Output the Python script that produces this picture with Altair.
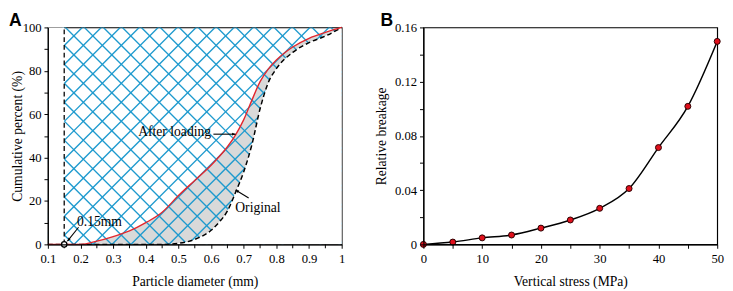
import altair as alt
import pandas as pd
import numpy as np

# ---------------- data ----------------
diam = [0.1, 0.15, 0.2, 0.25, 0.3, 0.35, 0.4, 0.45, 0.5, 0.55, 0.6, 0.625, 0.65,
        0.675, 0.7, 0.725, 0.75, 0.775, 0.8, 0.85, 0.9, 0.95, 1.0]
original = [0, 0, 0, 0, 0, 0, 0, 0, 0.5, 2.3, 6.5, 10.3, 15.4,
            24, 33.5, 46, 62.5, 74.5, 81, 88.5, 93, 96, 100]
after_loading = [0, 0, 0, 1.5, 3.6, 6.2, 10, 14.8, 22.5, 29.5, 36.5, 40.5, 45,
                 50.5, 57.5, 66.5, 75, 80.8, 85, 91, 95, 97.7, 100]
cutoff = 0.15

stress = [0, 5, 10, 15, 20, 25, 30, 35, 40, 45, 50]
breakage = [0, 0.0017, 0.0048, 0.0069, 0.012, 0.018, 0.0266, 0.0412, 0.0714, 0.1018, 0.1497]

x_major_a = [0.1, 0.2, 0.3, 0.4, 0.5, 0.6, 0.7, 0.8, 0.9, 1.0]
x_minor_a = [0.15, 0.25, 0.35, 0.45, 0.55, 0.65, 0.75, 0.85, 0.95]
y_ticks_a = list(range(0, 101, 10))
x_ticks_b = list(range(0, 51, 5))
y_ticks_b = [round(0.02 * i, 2) for i in range(9)]

# ---------------- layout / style ----------------
W, H = 302, 223
XD = [0.1, 1.0]
YD = [0, 100]
SERIF = "Liberation Serif"
HATCH = "#1e9ace"
GRAY = "#d9d9d9"
RED = "#e3262d"

sx = W / (XD[1] - XD[0])
sy = H / (YD[1] - YD[0])

xs = alt.Scale(domain=XD, nice=False, zero=False)
ys = alt.Scale(domain=YD, nice=False, zero=False)

axis_style = dict(domainColor="black", domainWidth=1.2, tickColor="black", tickSize=4,
                  tickWidth=1, labelFont=SERIF, labelFontSize=13, labelColor="black",
                  titleFont=SERIF, titleFontSize=14, titleFontWeight="normal",
                  titleColor="black", grid=False, labelFlush=False, labelOverlap=False,
                  labelSeparation=0, labelBound=False, zindex=1)

xa = alt.Axis(values=x_major_a, title="Particle diameter (mm)", titlePadding=9, labelPadding=5,
              labelExpr="format(datum.value, '~g')", **axis_style)
ya = alt.Axis(values=y_ticks_a, title="Cumulative  percent (%)", titlePadding=4,
              minExtent=20, maxExtent=20, labelPadding=3,
              labelExpr="(datum.value % 20 == 0) ? format(datum.value, '~g') : ''",
              **axis_style)

def XA(field):
    return alt.X(field, type="quantitative", scale=xs, axis=xa, title="Particle diameter (mm)")

def YA(field):
    return alt.Y(field, type="quantitative", scale=ys, axis=ya, title="Cumulative  percent (%)")

curves = pd.DataFrame({"d": diam, "orig": original, "after": after_loading})
curves["zero"] = 0.0

# hatch lines (45 degrees in pixel space), generated from spacing
spacing = 19.5
def to_data(u, w):
    return XD[0] + u / sx, YD[1] - w / sy

rows = []
for c in np.arange(35.4 - 30 * spacing, 35.4 + 40 * spacing, spacing):
    x1, y1 = to_data(c + 60, -60)
    x2, y2 = to_data(c - H - 60, H + 60)
    rows.append(dict(x=x1, y=y1, x2=x2, y2=y2))
for c in np.arange(18 - 30 * spacing, 18 + 40 * spacing, spacing):
    x1, y1 = to_data(c - 60, -60)
    x2, y2 = to_data(c + H + 60, H + 60)
    rows.append(dict(x=x1, y=y1, x2=x2, y2=y2))
hatch_df = pd.DataFrame(rows)

base = alt.Chart(curves)

gray = base.mark_area(color=GRAY, interpolate="monotone").encode(
    x=XA("d"), y=YA("after"), y2="orig:Q")

hatch = alt.Chart(hatch_df).mark_rule(color=HATCH, strokeWidth=1.4, clip=True).encode(
    x=XA("x"), y=YA("y"), x2="x2:Q", y2="y2:Q")

white_under = base.mark_area(color="white", interpolate="monotone").encode(
    x=XA("d"), y=YA("orig"), y2="zero:Q")

left_df = pd.DataFrame({"x": [XD[0]], "x2": [cutoff], "y": [YD[0]], "y2": [YD[1]]})
white_left = alt.Chart(left_df).mark_rect(color="white").encode(
    x=XA("x"), x2="x2:Q", y=YA("y"), y2="y2:Q")
cut_line = alt.Chart(left_df).mark_rule(color="black", strokeDash=[5, 3], strokeWidth=1.3).encode(
    x=XA("x2"), y=YA("y"), y2="y2:Q")

orig_line = base.mark_line(color="black", strokeDash=[5, 3], strokeWidth=1.5,
                           interpolate="monotone").encode(x=XA("d"), y=YA("orig"))
after_line = base.mark_line(color=RED, strokeWidth=1.4, interpolate="monotone").encode(
    x=XA("d"), y=YA("after"))

# minor ticks on the x axis of panel A
minor_df = pd.DataFrame({"m": x_minor_a})
minor_ticks = alt.Chart(minor_df).mark_rule(color="black", strokeWidth=1, clip=False).encode(
    x=XA("m"), y=alt.value(H), y2=alt.value(H + 4))

circ_df = pd.DataFrame({"x": [cutoff], "y": [0]})
circ = alt.Chart(circ_df).mark_point(shape="circle", fill="white", stroke="black",
                                     strokeWidth=1.3, size=30, opacity=1,
                                     fillOpacity=1).encode(x=XA("x"), y=YA("y"))

# annotations
lab_t = ["After loading", "Original", "0.15mm"]
lab_x = [0.600, 0.674, 0.189]
lab_y = [49.8, 14.8, 8.5]
right_df = pd.DataFrame({"t": lab_t[:1], "x": lab_x[:1], "y": lab_y[:1]})
left_lab_df = pd.DataFrame({"t": lab_t[1:], "x": lab_x[1:], "y": lab_y[1:]})
txt_r = alt.Chart(right_df).mark_text(
    font=SERIF, fontSize=14, align="right", baseline="alphabetic", color="black").encode(
    x=XA("x"), y=YA("y"), text="t:N")
txt_l = alt.Chart(left_lab_df).mark_text(
    font=SERIF, fontSize=14, align="left", baseline="alphabetic", color="black").encode(
    x=XA("x"), y=YA("y"), text="t:N")

arrows = pd.DataFrame({
    "x": [0.607, 0.715, 0.194],   # tail
    "y": [50.8, 21.4, 7.9],
    "x2": [0.675, 0.675, 0.160],  # head
    "y2": [50.8, 25.1, 1.5],
})
dxp = (arrows["x2"] - arrows["x"]) * sx
dyp = -(arrows["y2"] - arrows["y"]) * sy
arrows["ang"] = (np.degrees(np.arctan2(dxp, -dyp)) + 360) % 360
arrow_lines = alt.Chart(arrows).mark_rule(color="black", strokeWidth=1.1).encode(
    x=XA("x"), y=YA("y"), x2="x2:Q", y2="y2:Q")
arrow_heads = alt.Chart(arrows).mark_point(
    shape="M0,0L-0.5,1.3L0.5,1.3Z", filled=True, color="black", size=30, opacity=1).encode(
    x=XA("x2"), y=YA("y2"), angle=alt.Angle("ang:Q", scale=None))

def panel_letter(letter, dx):
    df = pd.DataFrame({"t": [letter]})
    return alt.Chart(df).mark_text(font="Liberation Sans", fontSize=18, fontWeight="bold",
                                   align="left", baseline="top", color="black").encode(
        x=alt.value(dx), y=alt.value(-15), text="t:N")

panel_a = alt.layer(gray, hatch, white_under, white_left, cut_line, orig_line, after_line,
                    minor_ticks, circ, arrow_lines, arrow_heads, txt_r, txt_l,
                    panel_letter("A", -40)).properties(width=W, height=H)

# ---------------- panel B ----------------
bdf = pd.DataFrame({"s": stress, "b": breakage})
xb = alt.Axis(values=x_ticks_b, title="Vertical stress (MPa)", titlePadding=9, labelPadding=5,
              labelExpr="(datum.value % 10 == 0) ? format(datum.value, '~g') : ''",
              **axis_style)
yb = alt.Axis(values=y_ticks_b, title="Relative breakage", titlePadding=6, labelPadding=3,
              minExtent=30, maxExtent=30,
              labelExpr="(round(datum.value*100) % 4 == 0) ? format(datum.value, '~g') : ''",
              **axis_style)
bxs = alt.Scale(domain=[0, 50], nice=False)
bys = alt.Scale(domain=[0, 0.16], nice=False)
bline = alt.Chart(bdf).mark_line(color="black", strokeWidth=1.5, interpolate="monotone").encode(
    x=alt.X("s:Q", scale=bxs, axis=xb, title="Vertical stress (MPa)"),
    y=alt.Y("b:Q", scale=bys, axis=yb, title="Relative breakage"))
bpts = alt.Chart(bdf).mark_point(shape="circle", fill="#e0101c", stroke="#2a0000",
                                 strokeWidth=1, size=38, opacity=1, fillOpacity=1).encode(
    x=alt.X("s:Q", scale=bxs, axis=xb, title="Vertical stress (MPa)"),
    y=alt.Y("b:Q", scale=bys, axis=yb, title="Relative breakage"))
panel_b = alt.layer(bline, bpts, panel_letter("B", -44)).properties(width=W, height=H)

chart = alt.hconcat(panel_a, panel_b, spacing=84, bounds="flush").properties(
    padding=0, background="white"
).configure_view(stroke="black", strokeWidth=1.2)

chart.save("out.html", embed_options={"renderer": "svg", "actions": False})
